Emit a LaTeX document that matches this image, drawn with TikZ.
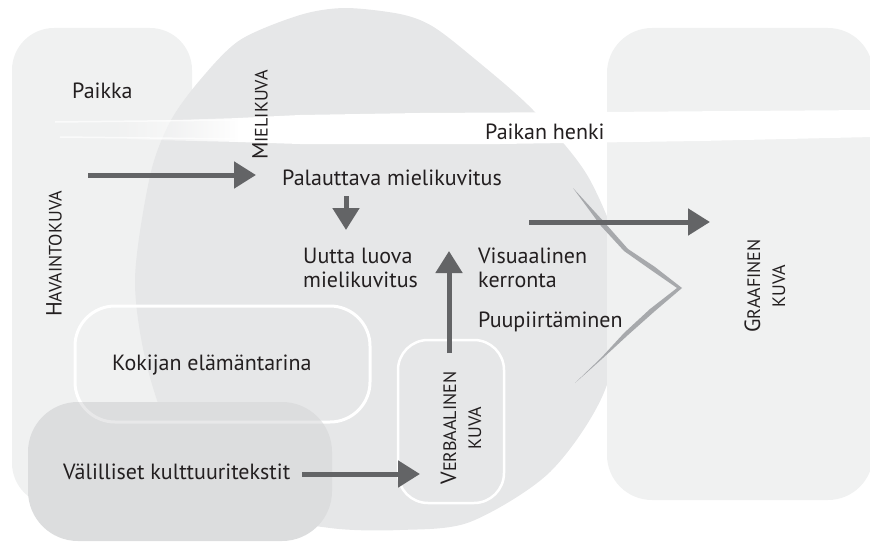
\documentclass[tikz,border=0pt]{standalone}
\usepackage{fontspec}
\setmainfont{PT Sans}
\usetikzlibrary{arrows.meta,fadings}
\definecolor{lightbg}{HTML}{F0F1F1}
\definecolor{blobc}{HTML}{E6E7E8}
\definecolor{boxc}{HTML}{DCDDDE}
\definecolor{arrc}{HTML}{636466}
\definecolor{crackc}{HTML}{A7A9AC}
\definecolor{txt}{HTML}{231F20}
\tikzset{
  arr/.style={draw=arrc, line width=5pt, -{Triangle[length=22pt,width=26pt]}},
  lbl/.style={text=txt, font=\fontsize{22}{24}\selectfont, inner sep=0pt, align=left},
  vlbl/.style={text=txt, font=\fontsize{18}{25}\selectfont, inner sep=0pt, align=center, rotate=90},
  wline/.style={draw=white, line width=3pt},
}
\newcommand{\mysc}[2]{{\fontsize{22}{25}\selectfont #1}{\fontsize{18}{25}\selectfont #2}}
\begin{document}
\begin{tikzpicture}[x=1pt,y=-1pt]
\useasboundingbox (0,0) rectangle (870,543);
% left light shape (Havaintokuva)
\fill[lightbg, rounded corners=42pt] (12,28) rectangle (192,505);
% big blob (Mielikuva)
\fill[blobc] plot[smooth cycle] coordinates {(135,280) (150,176) (170,122) (200,80) (240,40) (300,15) (345,8) (400,14) (432,26) (470,55) (533,110) (590,180) (625,280) (605,390) (550,472) (470,522) (400,530) (330,528) (250,510) (180,450) (148,370)};
% right light shape (Graafinen kuva)
\fill[lightbg, rounded corners=45pt] (607,28) rectangle (873,500);
% white brush stroke
\fill[white] (238,118) -- (300,115) -- (420,113) -- (600,112) -- (873,110) -- (873,137) -- (700,141) -- (500,144) -- (300,144) -- (238,142) -- cycle;
\fill[white, path fading=west] (110,122) -- (240,118) -- (240,142) -- (110,139) -- cycle;
\draw[white, line width=1.5pt, opacity=0.7] (55,122) -- (240,120);
\draw[white, line width=1.5pt, opacity=0.7] (60,137) -- (240,139);
% Kokijan elamantarina outline
\draw[wline, rounded corners=40pt] (75,306) rectangle (370,422);
% Valilliset box
\fill[boxc, rounded corners=50pt] (28,402) rectangle (332,541);
\begin{scope}
  \clip[rounded corners=50pt] (28,402) rectangle (332,541);
  \draw[white, line width=3pt, opacity=0.35, rounded corners=40pt] (75,306) rectangle (370,422);
\end{scope}
% Verbaalinen kuva box
\draw[draw=white, line width=2.5pt, rounded corners=30pt] (398,340) rectangle (504,503);
% crack
\fill[crackc] (573,188) -- (605,223) -- (628,249) -- (655,267) -- (682,288) -- (655,311) -- (628,335) -- (603,358) -- (575,383) -- (601,358) -- (624,333) -- (650,309) -- (677,288) -- (651,270) -- (624,251) -- (601,226) -- cycle;
% arrow coordinates
\coordinate (a1s) at (88,175);  \coordinate (a1e) at (256,175);
\coordinate (a2s) at (346,196); \coordinate (a2e) at (346,230);
\coordinate (a3s) at (449,353); \coordinate (a3e) at (449,251);
\coordinate (a4s) at (302,474); \coordinate (a4e) at (420,474);
\coordinate (a5s) at (529,222); \coordinate (a5e) at (710,222);
\draw[arr] (a1s) -- (a1e);
\draw[arr] (a2s) -- (a2e);
\draw[arr] (a3s) -- (a3e);
\draw[arr] (a4s) -- (a4e);
\draw[arr] (a5s) -- (a5e);
% labels
\node[lbl, anchor=base west] (paikka) at (72,98) {Paikka};
\node[lbl, anchor=base west] (henki) at (485,139) {Paikan henki};
\node[lbl, anchor=base west] (palauttava) at (282,185) {Palauttava mielikuvitus};
\node[lbl, anchor=base west] (uutta) at (303,287) {Uutta luova\\mielikuvitus};
\node[lbl, anchor=base west] (visu) at (478,287) {Visuaalinen\\kerronta};
\node[lbl, anchor=base west] (puu) at (478,327) {Puupiirtäminen};
\node[lbl, anchor=base west] (kokijan) at (112,370) {Kokijan elämäntarina};
\node[lbl, anchor=base west] (valilliset) at (63,479) {Välilliset kulttuuritekstit};
\node[vlbl] (mieli) at (260,115) {\mysc{M}{IELIKUVA}};
\node[vlbl] (havainto) at (54,254) {\mysc{H}{AVAINTOKUVA}};
\node[vlbl] (verbaali) at (461,428) {\mysc{V}{ERBAALINEN}\\KUVA};
\node[vlbl] (graafi) at (765,286) {\mysc{G}{RAAFINEN}\\KUVA};
\end{tikzpicture}
\end{document}
